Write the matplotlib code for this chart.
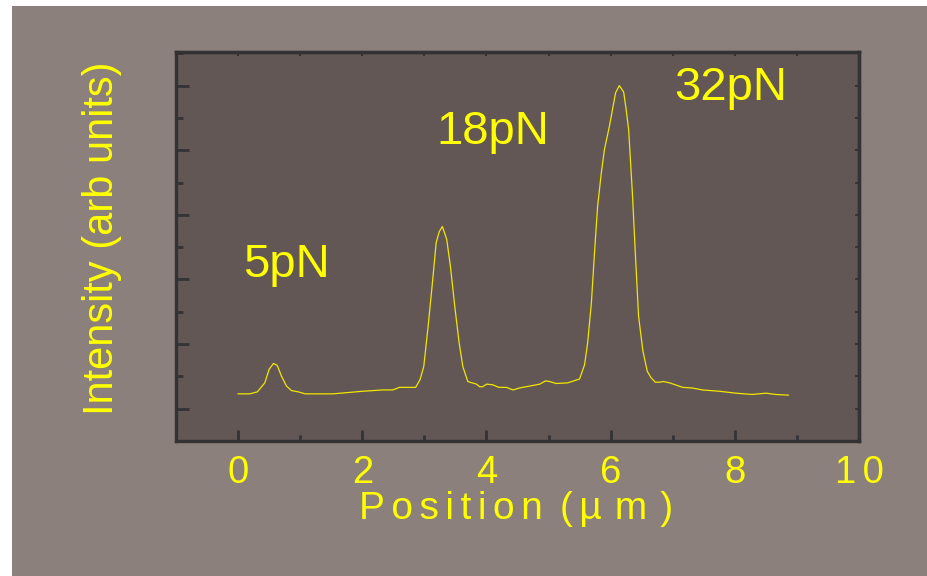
import matplotlib
matplotlib.use("Agg")
import matplotlib.pyplot as plt
from matplotlib.patches import Rectangle
from matplotlib.ticker import MultipleLocator

# ---- data ----
position = [0.00, 0.19, 0.31, 0.43, 0.50, 0.57, 0.63, 0.70, 0.78, 0.86, 0.97, 1.08,
            1.53, 2.01, 2.33, 2.49, 2.60, 2.86, 2.93, 2.99, 3.06, 3.14, 3.19, 3.24,
            3.29, 3.36, 3.42, 3.49, 3.56, 3.62, 3.70, 3.77, 3.84, 3.89, 3.94, 4.00,
            4.10, 4.20, 4.32, 4.43, 4.53, 4.75, 4.86, 4.95, 5.02, 5.12, 5.31, 5.50,
            5.58, 5.63, 5.69, 5.74, 5.79, 5.85, 5.90, 5.98, 6.03, 6.08, 6.14, 6.21,
            6.25, 6.29, 6.35, 6.40, 6.45, 6.52, 6.59, 6.65, 6.72, 6.78, 6.85, 6.95,
            7.16, 7.32, 7.48, 7.75, 8.02, 8.28, 8.50, 8.66, 8.86]
intensity = [0.23, 0.23, 0.26, 0.40, 0.61, 0.70, 0.67, 0.50, 0.35, 0.28, 0.26, 0.23,
             0.23, 0.27, 0.29, 0.29, 0.33, 0.33, 0.45, 0.65, 1.27, 2.05, 2.57, 2.74,
             2.82, 2.62, 2.20, 1.58, 1.02, 0.65, 0.42, 0.40, 0.38, 0.34, 0.34, 0.38,
             0.37, 0.33, 0.33, 0.29, 0.32, 0.36, 0.38, 0.43, 0.42, 0.39, 0.40, 0.46,
             0.68, 1.02, 1.64, 2.41, 3.13, 3.65, 4.01, 4.37, 4.63, 4.89, 5.00, 4.90,
             4.63, 4.32, 3.34, 2.36, 1.43, 0.89, 0.58, 0.48, 0.41, 0.41, 0.42, 0.40,
             0.33, 0.32, 0.29, 0.27, 0.24, 0.22, 0.24, 0.22, 0.21]

peak_labels = ["5pN", "18pN", "32pN"]
label_x = [0.08, 3.20, 7.03]
label_y = [2.04, 4.09, 4.78]

xtick_values = [0, 2, 4, 6, 8, 10]
xtick_labels = ["0", "2", "4", "6", "8", "1\u20060"]

# ---- style ----
BG = "#8c807c"
FACE = "#625755"
SPINE = "#333235"
YELLOW = "#ffff00"
LINE = "#f2e600"
FONT = ["Liberation Sans", "DejaVu Sans"]

plt.rcParams["font.family"] = FONT

fig = plt.figure(figsize=(9.27, 5.76), dpi=100)
fig.patch.set_facecolor("white")
fig.patches.append(Rectangle((12 / 927, 0), 1 - 12 / 927, 1 - 6 / 576,
                             transform=fig.transFigure, facecolor=BG,
                             edgecolor="none", zorder=-10))

ax = fig.add_axes([176 / 927, 1 - 441 / 576, (859 - 176) / 927, (441 - 52) / 576])
ax.set_facecolor(FACE)
ax.plot(position, intensity, color=LINE, lw=0.9)

ax.set_xlim(-1, 10)
ax.set_ylim(-0.5, 5.52)

for s in ax.spines.values():
    s.set_color(SPINE)
    s.set_linewidth(2.4)

ax.set_xticks(xtick_values)
ax.set_xticklabels(xtick_labels)
ax.xaxis.set_minor_locator(MultipleLocator(1))
ax.yaxis.set_major_locator(MultipleLocator(1))
ax.yaxis.set_minor_locator(MultipleLocator(0.5))
ax.set_yticklabels([])
ax.tick_params(axis="x", which="major", direction="in", length=8, width=2,
               color=SPINE, labelsize=27.5, labelcolor=YELLOW, pad=10)
ax.tick_params(axis="x", which="minor", direction="in", length=4.5, width=2,
               color=SPINE)
ax.tick_params(axis="y", which="major", direction="in", length=9, width=2,
               color=SPINE, labelleft=False)
ax.tick_params(axis="y", which="minor", direction="in", length=5, width=2,
               color=SPINE)

top = ax.secondary_xaxis("top")
top.xaxis.set_major_locator(MultipleLocator(1))
top.tick_params(direction="in", length=3, width=1.5, color=SPINE, labeltop=False)
top.spines["top"].set_color(SPINE)
top.spines["top"].set_linewidth(2.4)
right = ax.secondary_yaxis("right")
right.yaxis.set_major_locator(MultipleLocator(0.5))
right.tick_params(direction="in", length=3, width=1.5, color=SPINE, labelright=False)
right.spines["right"].set_color(SPINE)
right.spines["right"].set_linewidth(2.4)

sp = "\u2006"
xlab = sp.join("Position") + " " + sp + "(" + sp + "\u00b5" + sp + sp + "m" + sp + sp + ")"
ax.set_xlabel(xlab, fontsize=28, color=YELLOW)
ax.xaxis.set_label_coords(0.498, -0.128)
ax.set_ylabel("Intensity (arb units)", fontsize=30, color=YELLOW)
ax.yaxis.set_label_coords(-0.079, 0.522)

for t, x, y in zip(peak_labels, label_x, label_y):
    ax.text(x, y, t, fontsize=34, color=YELLOW, ha="left", va="baseline")

fig.savefig("out.png", dpi=100, facecolor=fig.get_facecolor())
